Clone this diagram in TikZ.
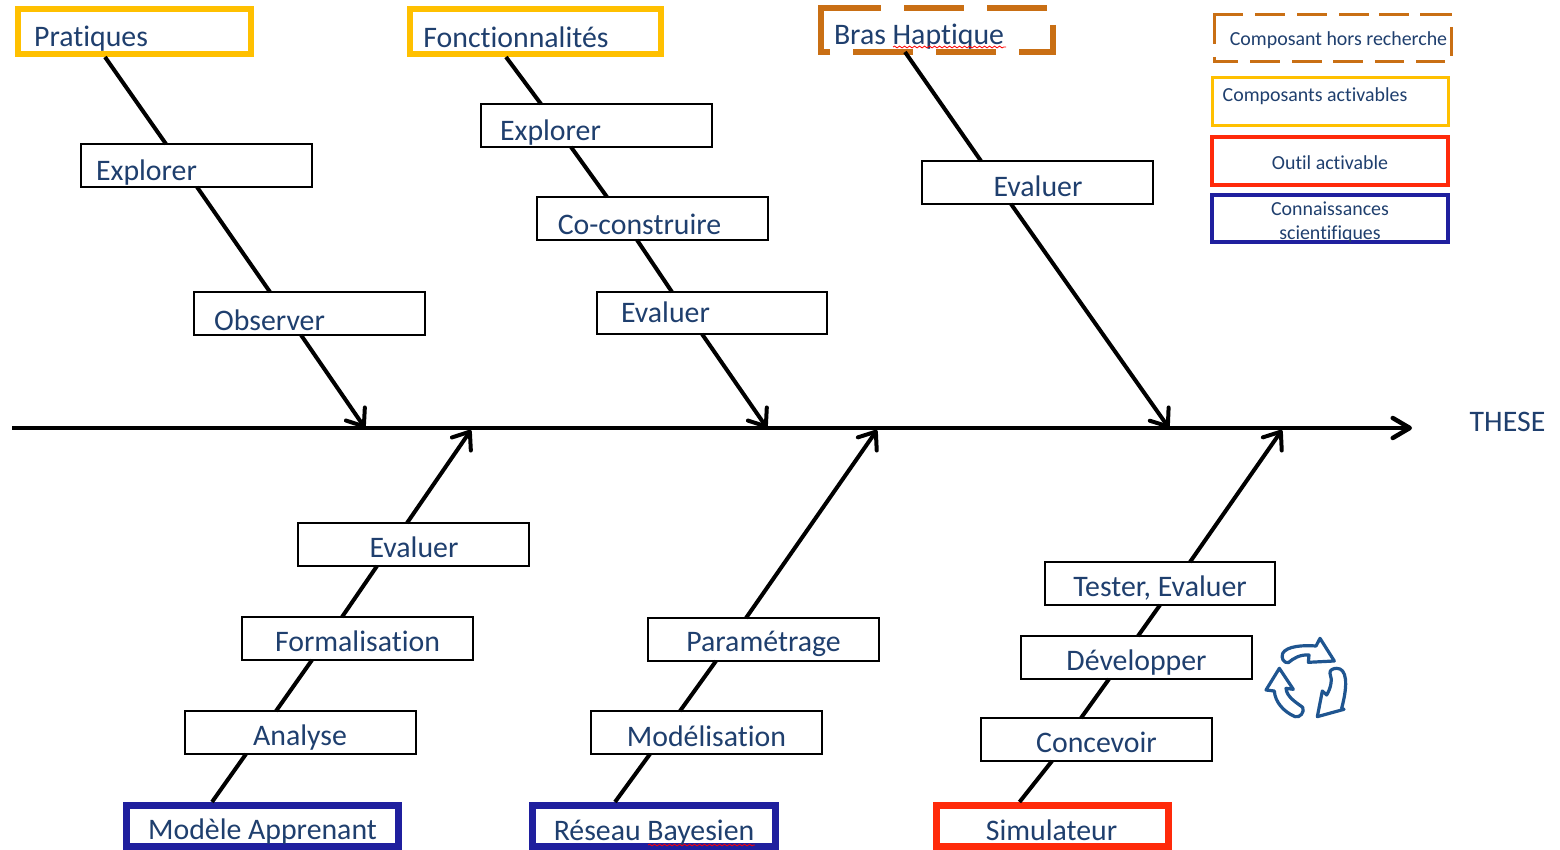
\documentclass[tikz,border=0pt]{standalone}
\usepackage{fontspec}
\setmainfont[Ligatures=NoCommon]{Carlito}
\usetikzlibrary{arrows.meta,decorations.pathmorphing}
\definecolor{txtblue}{HTML}{1F3F6E}
\definecolor{ygold}{HTML}{FFC000}
\definecolor{oorange}{HTML}{C96F14}
\definecolor{rred}{HTML}{FF2A0A}
\definecolor{bblue}{HTML}{1F1F9E}
\definecolor{iconblue}{HTML}{1F5590}
\newcommand\lab[3]{\smash{\raisebox{#2pt}{\makebox[0pt]{\hspace{#1pt}#3}}}}
\newcommand\bx[9]{%
 \pgfmathsetmacro\bcx{(#3+#5)/2}\pgfmathsetmacro\bcy{(#4+#6)/2}%
 \pgfmathsetmacro\bw{#5-#3}\pgfmathsetmacro\bh{#6-#4}%
 \pgfmathsetmacro\bdx{2*(#7-\bcx)}\pgfmathsetmacro\bdy{\bcy-#8-0.8}%
 \node[#1,minimum width=\bw pt,minimum height=\bh pt] (#2) at (\bcx,\bcy) {\lab{\bdx}{\bdy}{#9}};}
\newcommand\dn[4]{\draw[conn] ([xshift=#2pt]#1.south west) -- ([xshift=#4pt]#3.north west);}
\newcommand\up[4]{\draw[conn] ([xshift=#2pt]#1.north west) -- ([xshift=#4pt]#3.south west);}
\tikzset{
 base/.style={inner sep=0pt,outer sep=0pt,rectangle,text=txtblue,font=\fontsize{29.8}{34}\selectfont},
 wbox/.style={base,draw=black,line width=2.2pt},
 ybox/.style={base,draw=ygold,line width=6pt,outer sep=3pt},
 bbox/.style={base,draw=bblue,line width=7pt,outer sep=3.5pt},
 rbox/.style={base,draw=rred,line width=7pt,outer sep=3.5pt},
 nobox/.style={base},
 legend/.style={font=\fontsize{19.9}{24}\selectfont},
 conn/.style={draw=black,line width=4pt},
 arr/.style={conn,-{Straight Barb[round,length=15pt,width=23pt,line width=4pt]}},
 dashor/.style={draw=oorange,line cap=butt,line join=miter},
 wavy/.style={draw=red,line width=.8pt,decorate,decoration={snake,amplitude=.9pt,segment length=5pt}},
 icon/.style={draw=iconblue,fill=white,line width=3.2pt,line join=round}
}
\begin{document}
\begin{tikzpicture}[x=1pt,y=-1pt]
\useasboundingbox[fill=white] (0,0) rectangle (1560,850);
% spine
\coordinate (s0) at (12,428);
\coordinate (s1) at (1412,428);
\draw[line width=4.5pt,-{Straight Barb[round,length=17pt,width=20pt,line width=4.5pt]}] (s0) -- (s1);
\node[base,anchor=base] (these) at (1507.5,431.5) {THESE};
\foreach \n/\x/\y in {t1/365/428,t2/767/428,t3/1169/428,t4/471/430,t5/877/430,t6/1282/430}{\coordinate (\n) at (\x,\y);}
% top
\bx{ybox}{prat}{18}{9}{251}{54}{91}{46}{Pratiques}
\bx{ybox}{fonc}{410}{9}{661}{54}{516}{47}{Fonctionnalités}
\bx{nobox}{bras}{820}{8}{1054}{52}{919}{44}{Bras Haptique}
\bx{wbox}{ex1}{81}{144}{312}{187}{146.5}{180}{Explorer}
\bx{wbox}{ob}{194}{292}{425}{335}{269.5}{329.5}{Observer}
\bx{wbox}{ex2}{481}{104}{712}{147}{550.5}{140}{Explorer}
\bx{wbox}{co}{537}{197}{768}{240}{639.5}{234}{Co-construire}
\bx{wbox}{ev2}{597}{292}{827}{334}{665.5}{322}{Evaluer}
\bx{wbox}{ev3}{922}{161}{1153}{204}{1038}{196}{Evaluer}
% bottom
\bx{bbox}{mod}{126}{805.5}{398}{846}{262.5}{839}{Modèle Apprenant}
\bx{bbox}{res}{532.5}{805.5}{775.5}{846}{654}{840}{Réseau Bayesien}
\bx{rbox}{sim}{936}{805.5}{1168}{846}{1051.5}{840}{Simulateur}
\bx{wbox}{ana}{185}{711}{416}{754}{300}{745}{Analyse}
\bx{wbox}{form}{242}{617}{473}{660}{357.5}{651}{Formalisation}
\bx{wbox}{ev4}{298}{523}{529}{566}{414}{557}{Evaluer}
\bx{wbox}{mode}{591}{711}{822}{754}{706.5}{746}{Modélisation}
\bx{wbox}{para}{648}{618}{879}{661}{763.5}{651}{Paramétrage}
\bx{wbox}{conc}{981}{718}{1212}{761}{1096.5}{752}{Concevoir}
\bx{wbox}{dev}{1021}{636}{1252}{679}{1136.5}{670}{Développer}
\bx{wbox}{test}{1045}{562}{1275}{605}{1160}{596}{Tester, Evaluer}
% legend
\bx{nobox,legend}{l1}{1214}{15}{1451}{62}{1338.5}{44.5}{Composant hors recherche}
\bx{base,legend,draw=ygold,line width=3pt}{l2}{1212}{78}{1448}{126}{1315}{100.5}{Composants activables}
\bx{base,legend,draw=rred,line width=4pt}{l3}{1212}{137}{1448}{185}{1330}{168.5}{Outil activable}
\bx{base,legend,draw=bblue,line width=3.5pt}{l4}{1212}{195}{1448}{242}{1330}{238.5}{\begin{tabular}[b]{@{}c@{}}Connaissances\\scientifiques\end{tabular}}
% dashed frames
\draw[dashor,line width=6pt] (830,52) -- (821,52) -- (821,8) -- (881,8)
  (904,8) -- (964,8) (987,8) -- (1047,8)
  (1053,25) -- (1053,52) -- (1019,52) (996,52) -- (936,52) (913,52) -- (853,52);
\draw[dashor,line width=3pt] (1214,44) -- (1214,15) -- (1243,15) (1255,15) -- (1285,15) (1297,15) -- (1327,15)
  (1339,15) -- (1369,15) (1379,15) -- (1409,15) (1420,15) -- (1452,15)
  (1451,27) -- (1451,56)
  (1214,57) -- (1214,62) -- (1238,62) (1250,62) -- (1280,62) (1292,62) -- (1322,62) (1333,62) -- (1363,62) (1375,62) -- (1404,62) (1416,62) -- (1445,62);
% spell-check underlines
\draw[wavy] (893,47) -- (1006,47);
\draw[wavy] (648,845) -- (755,845);
% connectors
\dn{prat}{90}{ex1}{85}
\dn{ex1}{116}{ob}{76}
\draw[arr] ([xshift=107pt]ob.south west) -- (t1);
\dn{fonc}{99}{ex2}{60}
\dn{ex2}{90}{co}{70}
\dn{co}{100}{ev2}{75}
\draw[arr] ([xshift=105pt]ev2.south west) -- (t2);
\dn{bras}{85}{ev3}{59}
\draw[arr] ([xshift=89pt]ev3.south west) -- (t3);
\up{mod}{89.5}{ana}{61}
\up{ana}{91}{form}{70}
\up{form}{100}{ev4}{79}
\draw[arr] ([xshift=109pt]ev4.north west) -- (t4);
\up{res}{86}{mode}{59}
\up{mode}{89}{para}{68}
\draw[arr] ([xshift=98pt]para.north west) -- (t5);
\up{sim}{87}{conc}{71}
\up{conc}{100}{dev}{88}
\up{dev}{117}{test}{115}
\draw[arr] ([xshift=145pt]test.north west) -- (t6);
% recycle icon
\begin{scope}[shift={(1240,620)},x=0.3333pt,y=-0.3333pt]
\draw[icon] (128,100) .. controls (140,78) and (190,75) .. (228,78) -- (240,55) -- (283,123) -- (205,127) -- (207,105)
  .. controls (180,103) and (160,115) .. (145,128) .. controls (132,130) and (122,115) .. (128,100) -- cycle;
\draw[icon] (290,145) .. controls (320,145) and (325,190) .. (305,265) -- (312,268) -- (232,290) -- (247,213) -- (260,225)
  .. controls (272,205) and (278,180) .. (270,160) .. controls (268,150) and (280,145) .. (290,145) -- cycle;
\draw[icon] (118,145) -- (160,208) -- (138,205) .. controls (140,230) and (165,245) .. (188,262)
  .. controls (195,275) and (180,295) .. (165,290) .. controls (130,275) and (105,245) .. (103,213) -- (78,210) -- cycle;
\end{scope}
\end{tikzpicture}
\end{document}
